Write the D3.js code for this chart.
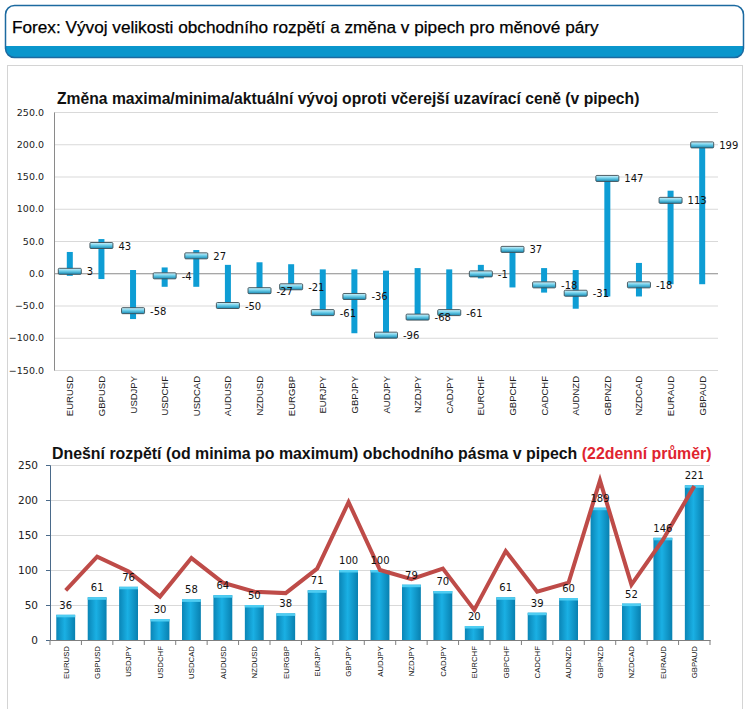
<!DOCTYPE html>
<html>
<head>
<meta charset="utf-8">
<script src="https://cdn.jsdelivr.net/npm/d3@7"></script>
<style>
  html, body { margin: 0; padding: 0; background: #ffffff; }
  svg { display: block; }
</style>
</head>
<body>
<svg id="chart" width="749" height="709"></svg>
<script>
// ---------- DATA ----------
const pairs = ["EURUSD","GBPUSD","USDJPY","USDCHF","USDCAD","AUDUSD","NZDUSD","EURGBP","EURJPY","GBPJPY","AUDJPY","NZDJPY","CADJPY","EURCHF","GBPCHF","CADCHF","AUDNZD","GBPNZD","NZDCAD","EURAUD","GBPAUD"];
// top chart: change vs yesterday close (pips)
const highVals    = [33, 53, 5, 9, 36, 13, 17, 14, 6, 6, 4, 8, 6, 13, 37, 8, 5, 147, 16, 128, 199];
const lowVals     = [-4, -9, -71, -21, -21, -52, -31, -21, -61, -93, -96, -68, -61, -8, -22, -30, -55, -36, -36, -17, -17];
const currentVals = [3, 43, -58, -4, 27, -50, -27, -21, -61, -36, -96, -68, -61, -1, 37, -18, -31, 147, -18, 113, 199];
const topTicks = [-150, -100, -50, 0, 50, 100, 150, 200, 250];
// bottom chart: today's range and 22-day average (pips)
const rangeVals = [36, 61, 76, 30, 58, 64, 50, 38, 71, 100, 100, 79, 70, 20, 61, 39, 60, 189, 52, 146, 221];
const avgVals   = [71, 119, 98, 62, 117, 82, 69, 67, 102, 197, 100, 87, 102, 43, 127, 69, 82, 228, 79, 143, 220];
const bottomTicks = [0, 50, 100, 150, 200, 250];

const headerTitle = "Forex: Vývoj velikosti obchodního rozpětí a změna v pipech pro měnové páry";
const topTitle = "Změna maxima/minima/aktuální vývoj oproti včerejší uzavírací ceně (v pipech)";
const bottomTitleA = "Dnešní rozpětí (od minima po maximum) obchodního pásma v pipech ";
const bottomTitleB = "(22denní průměr)";

// ---------- SETUP ----------
const svg = d3.select("#chart");
const defs = svg.append("defs");

// header
defs.append("clipPath").attr("id", "hdrclip")
  .append("rect").attr("x", 5.5).attr("y", 5.5).attr("width", 738).attr("height", 52).attr("rx", 9);
svg.append("rect").attr("x", 5.5).attr("y", 5.5).attr("width", 738).attr("height", 52).attr("rx", 9)
  .attr("fill", "#ffffff");
svg.append("rect").attr("x", 5).attr("y", 46).attr("width", 740).attr("height", 13)
  .attr("fill", "#0a96cc").attr("clip-path", "url(#hdrclip)");
svg.append("rect").attr("x", 5.5).attr("y", 5.5).attr("width", 738).attr("height", 52).attr("rx", 9)
  .attr("fill", "none").attr("stroke", "#1c6aa0").attr("stroke-width", 1.5);
svg.append("text").attr("x", 12).attr("y", 33)
  .attr("font-family", "Liberation Sans, Arial, sans-serif").attr("font-size", 17.2)
  .attr("fill", "#000").attr("stroke", "#000").attr("stroke-width", 0.25).text(headerTitle);

// panel
svg.append("rect").attr("x", 7.5).attr("y", 65.5).attr("width", 735).attr("height", 660)
  .attr("fill", "#ffffff").attr("stroke", "#d4d4d4");

// gradients
const mg = defs.append("linearGradient").attr("id", "markerGrad").attr("x1", 0).attr("y1", 0).attr("x2", 0).attr("y2", 1);
mg.append("stop").attr("offset", "0%").attr("stop-color", "#d8f3fb");
mg.append("stop").attr("offset", "45%").attr("stop-color", "#6fcfea");
mg.append("stop").attr("offset", "100%").attr("stop-color", "#1689b3");

const bg = defs.append("linearGradient").attr("id", "barGrad").attr("x1", 0).attr("y1", 0).attr("x2", 1).attr("y2", 0);
bg.append("stop").attr("offset", "0%").attr("stop-color", "#0a85b6");
bg.append("stop").attr("offset", "45%").attr("stop-color", "#1ab0e4");
bg.append("stop").attr("offset", "100%").attr("stop-color", "#0880b0");

// ---------- TOP CHART ----------
const xT = d3.scaleBand().domain(pairs).range([54, 718]);
const yT = d3.scaleLinear().domain([-150, 250]).range([370, 112]);
const gT = svg.append("g");

gT.append("text").attr("x", 57).attr("y", 104)
  .attr("font-family", "Liberation Sans, Arial, sans-serif").attr("font-size", 15.7).attr("font-weight", "bold")
  .attr("fill", "#111").text(topTitle);

// gridlines
gT.selectAll("line.grid").data(topTicks).enter().append("line")
  .attr("x1", 54).attr("x2", 718)
  .attr("y1", d => yT(d) + 0.5).attr("y2", d => yT(d) + 0.5)
  .attr("stroke", d => d === 0 ? "#8a8a8a" : "#d9d9d9").attr("stroke-width", 1);

// y axis
const axT = gT.append("g").attr("transform", "translate(54,0)")
  .call(d3.axisLeft(yT).tickValues(topTicks).tickFormat(d3.format(".1f")).tickSize(0).tickPadding(10));
axT.select(".domain").attr("stroke", "#8a8a8a");
axT.selectAll("text").attr("font-family", "DejaVu Sans, Verdana, sans-serif").attr("font-size", 9.5).attr("fill", "#222");

// x labels
gT.selectAll("text.xl").data(pairs).enter().append("text")
  .attr("transform", d => `translate(${xT(d) + xT.bandwidth() / 2 + 3.5},376) rotate(-90)`)
  .attr("text-anchor", "end")
  .attr("font-family", "Liberation Sans, Arial, sans-serif").attr("font-size", 9.5).attr("fill", "#222")
  .text(d => d);

// range bars
gT.selectAll("rect.rng").data(pairs).enter().append("rect")
  .attr("x", d => xT(d) + xT.bandwidth() / 2 - 3)
  .attr("width", 6)
  .attr("y", (d, i) => yT(highVals[i]))
  .attr("height", (d, i) => yT(lowVals[i]) - yT(highVals[i]))
  .attr("fill", "#0e9dd4");

// current markers
gT.selectAll("rect.mk").data(pairs).enter().append("rect")
  .attr("x", d => xT(d) + xT.bandwidth() / 2 - 11.5)
  .attr("width", 23)
  .attr("y", (d, i) => yT(currentVals[i]) - 3)
  .attr("height", 6)
  .attr("rx", 1)
  .attr("fill", "url(#markerGrad)").attr("stroke", "#3b4d55").attr("stroke-width", 0.9);

// value labels
gT.selectAll("text.vl").data(pairs).enter().append("text")
  .attr("x", d => xT(d) + xT.bandwidth() / 2 + 17)
  .attr("y", (d, i) => yT(currentVals[i]) + 4)
  .attr("font-family", "DejaVu Sans, Verdana, sans-serif").attr("font-size", 10).attr("fill", "#111")
  .text((d, i) => currentVals[i]);

// ---------- BOTTOM CHART ----------
const xB = d3.scaleBand().domain(pairs).range([50, 710]);
const yB = d3.scaleLinear().domain([0, 250]).range([640, 465]);
const gB = svg.append("g");

const bt = gB.append("text").attr("x", 52).attr("y", 459)
  .attr("font-family", "Liberation Sans, Arial, sans-serif").attr("font-size", 15.9).attr("font-weight", "bold")
  .attr("fill", "#111");
bt.append("tspan").text(bottomTitleA);
bt.append("tspan").attr("fill", "#e0242f").text(bottomTitleB);

gB.selectAll("line.grid").data(bottomTicks.filter(d => d > 0)).enter().append("line")
  .attr("x1", 50).attr("x2", 710)
  .attr("y1", d => yB(d) + 0.5).attr("y2", d => yB(d) + 0.5)
  .attr("stroke", "#d9d9d9");

const axB = gB.append("g").attr("transform", "translate(50,0)")
  .call(d3.axisLeft(yB).tickValues(bottomTicks).tickSize(4).tickPadding(8));
axB.select(".domain").attr("stroke", "#4a6a8a");
axB.selectAll(".tick line").attr("stroke", "#4a6a8a");
axB.selectAll("text").attr("font-family", "DejaVu Sans, Verdana, sans-serif").attr("font-size", 10.5).attr("fill", "#222");

// bars
const bw = xB.bandwidth() * 0.6;
gB.selectAll("rect.bar").data(pairs).enter().append("rect")
  .attr("x", d => xB(d) + (xB.bandwidth() - bw) / 2)
  .attr("width", bw)
  .attr("y", (d, i) => yB(rangeVals[i]))
  .attr("height", (d, i) => yB(0) - yB(rangeVals[i]))
  .attr("fill", "url(#barGrad)");
gB.selectAll("rect.cap").data(pairs).enter().append("rect")
  .attr("x", d => xB(d) + (xB.bandwidth() - bw) / 2)
  .attr("width", bw)
  .attr("y", (d, i) => yB(rangeVals[i]))
  .attr("height", 2.5)
  .attr("fill", "#4fcdf2");

// x axis
const axX = gB.append("g").attr("transform", "translate(0,640)")
  .call(d3.axisBottom(xB).tickSize(0).tickFormat(""));
axX.select(".domain").attr("stroke", "#7f7f7f");
gB.selectAll("line.xt").data(pairs.concat(["_end"])).enter().append("line")
  .attr("x1", (d, i) => xB(pairs[0]) + i * xB.step())
  .attr("x2", (d, i) => xB(pairs[0]) + i * xB.step())
  .attr("y1", 640).attr("y2", 645).attr("stroke", "#7f7f7f");

gB.selectAll("text.xl").data(pairs).enter().append("text")
  .attr("transform", d => `translate(${xB(d) + xB.bandwidth() / 2 + 2.8},646) rotate(-90)`)
  .attr("text-anchor", "end")
  .attr("font-family", "Liberation Sans, Arial, sans-serif").attr("font-size", 7.8).attr("fill", "#111")
  .text(d => d);

// average line
const line = d3.line()
  .x((d, i) => xB(pairs[i]) + xB.bandwidth() / 2)
  .y(d => yB(d));
gB.append("path").datum(avgVals).attr("d", line)
  .attr("fill", "none").attr("stroke", "#be4b48").attr("stroke-width", 4).attr("stroke-linejoin", "miter");

// bar labels
gB.selectAll("text.bl").data(pairs).enter().append("text")
  .attr("x", d => xB(d) + xB.bandwidth() / 2)
  .attr("y", (d, i) => yB(rangeVals[i]) - 6)
  .attr("text-anchor", "middle")
  .attr("font-family", "DejaVu Sans, Verdana, sans-serif").attr("font-size", 10).attr("fill", "#111")
  .text((d, i) => rangeVals[i]);
</script>
</body>
</html>
